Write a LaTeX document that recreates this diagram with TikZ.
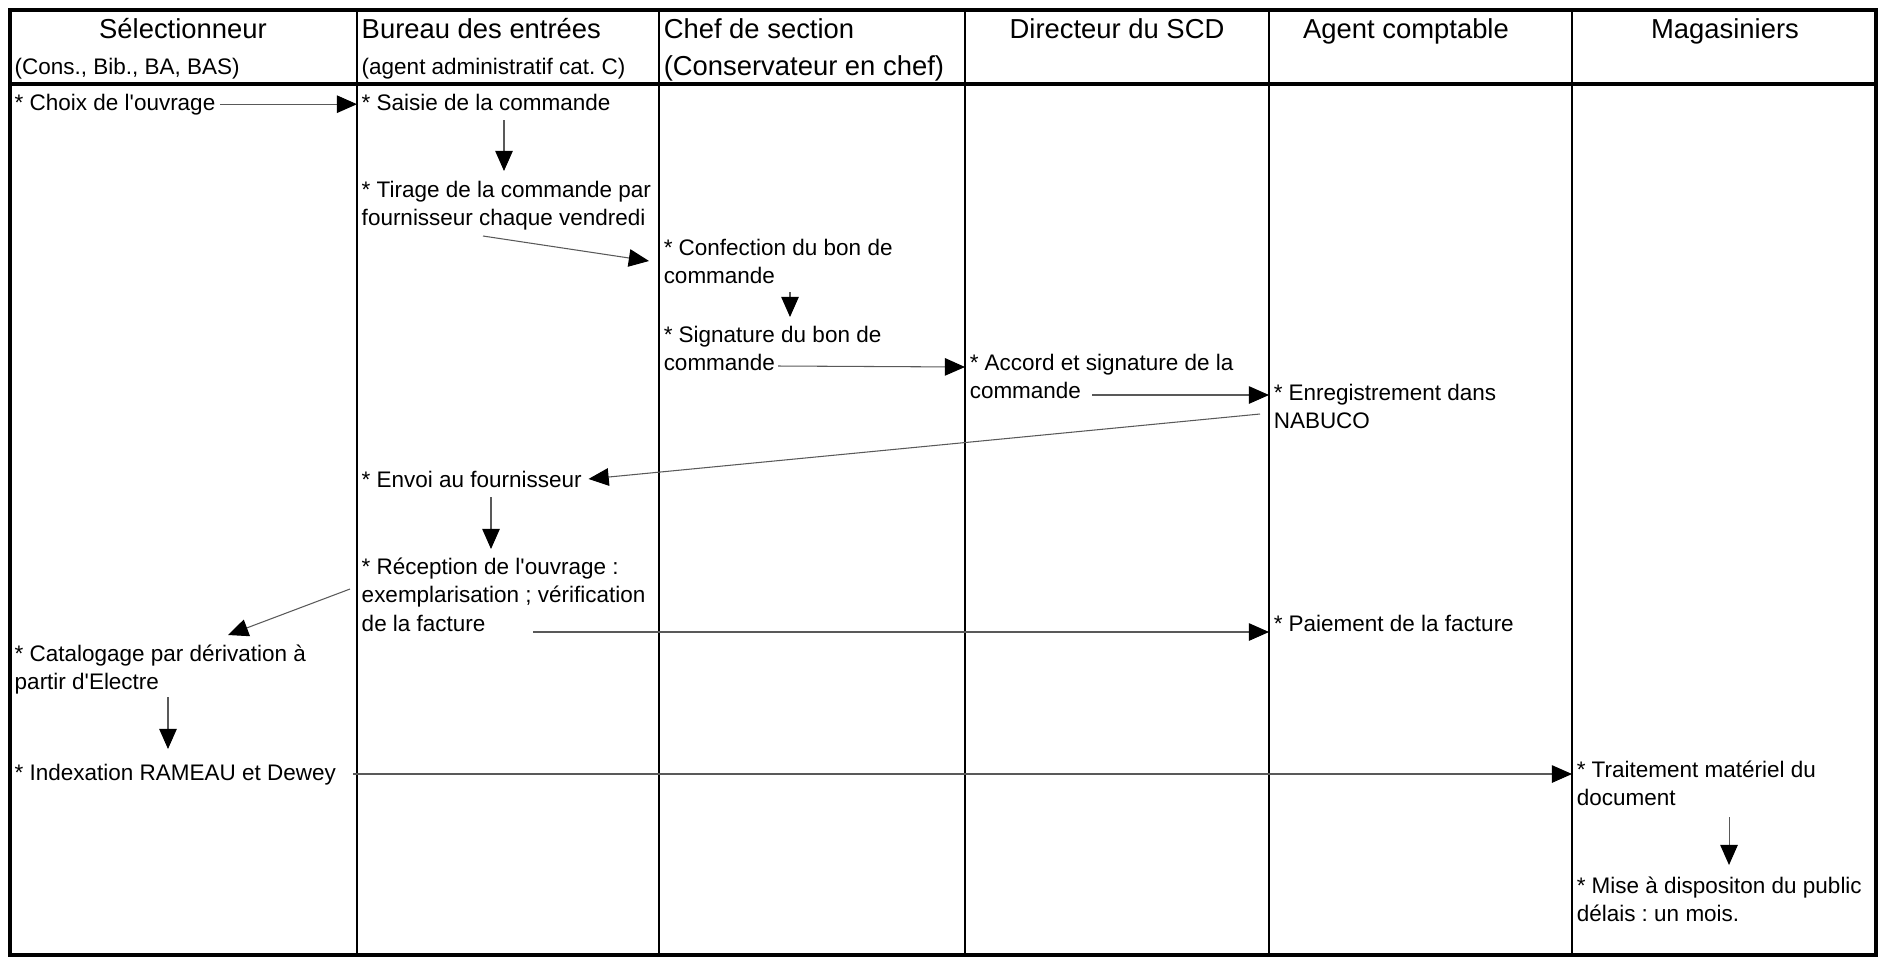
\documentclass[tikz,border=0pt]{standalone}
\usepackage{fontspec}
\setmainfont{Liberation Sans}
\usetikzlibrary{arrows.meta}
\usetikzlibrary{positioning}
\usetikzlibrary{calc}
\frenchspacing

\begin{document}
\begin{tikzpicture}
  [x=0.02cm,y=-0.02cm,
  lane/.style={draw=black,line width=1.3pt},
  border/.style={draw=black,line width=1.9pt},
  head/.style={inner sep=0pt,anchor=base,font=\fontsize{15.6}{19}\selectfont},
  lhead/.style={inner xsep=2.5pt,inner ysep=0pt,anchor=base west,font=\fontsize{15.6}{19}\selectfont},
  role/.style={inner xsep=2.5pt,inner ysep=0pt,anchor=base west,font=\fontsize{12.8}{16}\selectfont},
  task/.style={inner xsep=2.5pt,inner ysep=0pt,anchor=base west,align=left,font=\fontsize{12.8}{16.2}\selectfont},
  flow/.style={draw=black!65,line width=0.6pt,-{Triangle[length=11.5pt,width=10pt,color=black]}}]
  \useasboundingbox (0,0) rectangle (1878,958);

  \draw[border] (10,10) rectangle (1876,955);
  \draw[border] (10,84) -- (1876,84);
  \foreach \x in {357,659,965,1269,1572}
    \draw[lane] (\x,10) -- (\x,955);

  \node[head] (selectionneur) at (183,38) {Sélectionneur};
  \node[role] (selectionneurrole) at (10,74) {(Cons., Bib., BA, BAS)};
  \node[lhead] (bureau) at (357,38) {Bureau des entrées};
  \node[role] (bureaurole) at (357,74) {(agent administratif cat. C)};
  \node[lhead] (chef) at (659,38) {Chef de section};
  \node[lhead] (chefrole) at (659,75) {(Conservateur en chef)};
  \node[head] (directeur) at (1117,38) {Directeur du SCD};
  \node[head] (agent) at (1406,38) {Agent comptable};
  \node[head] (magasiniers) at (1725,38) {Magasiniers};

  % multi-line tasks sit on the baseline of their last line
  \node[task] (choix) at (10,110) {* Choix de l\textquotesingle ouvrage};
  \node[task] (saisie) at (357,110) {* Saisie de la commande};
  \node[task] (tirage) at (357,225.5) {* Tirage de la commande par\\fournisseur chaque vendredi};
  \node[task] (confection) at (659,283.5) {* Confection du bon de\\commande};
  \node[task] (signature) at (659,370.5) {* Signature du bon de\\commande};
  \node[task] (accord) at (965,398.5) {* Accord et signature de la\\commande};
  \node[task] (enreg) at (1269,428.5) {* Enregistrement dans\\NABUCO};
  \node[task] (envoi) at (357,487) {* Envoi au fournisseur};
  \node[task] (reception) at (357,631) {* Réception de l\textquotesingle ouvrage :\\exemplarisation ; vérification\\de la facture};
  \node[task] (paiement) at (1269,631) {* Paiement de la facture};
  \node[task] (catalogage) at (10,689.5) {* Catalogage par dérivation à\\partir d\textquotesingle Electre};
  \node[task] (indexation) at (10,780) {* Indexation RAMEAU et Dewey};
  \node[task] (traitement) at (1572,805.5) {* Traitement matériel du\\document};
  \node[task] (mise) at (1572,921.5) {* Mise à dispositon du public\\délais : un mois.};

  \draw[flow] (choix.east) -- (choix.east -| saisie.west);
  \draw[flow] ($(saisie.base west)+(147,10)$) -- ($(tirage.base west)+(147,-54.5)$);
  \draw[flow] ($(tirage.base west)+(126,10.5)$) -- ($(confection.base west)+(-10,-22.5)$);
  \draw[flow] ($(confection.base west)+(131,8.5)$) -- ($(signature.base west)+(131,-53.5)$);
  \draw[flow] ($(signature.base west)+(119,-4.5)$) -- ($(accord.base west)+(0,-31.5)$);
  \draw[flow] ($(accord.base west)+(127,-3.5)$) -- ($(enreg.base west)+(0,-33.5)$);
  \draw[flow] ($(enreg.base west)+(-9,-14.5)$) -- ($(envoi.east)+(2,0)$);
  \draw[flow] ($(envoi.base west)+(134,10)$) -- ($(reception.base west)+(134,-82)$);
  \draw[flow] ($(reception.base west)+(-7,-42)$) -- ($(catalogage.base west)+(218,-54.5)$);
  \draw[flow] ($(reception.base west)+(176,1)$) -- ($(paiement.base west)+(0,1)$);
  \draw[flow] ($(catalogage.base west)+(158,7.5)$) -- ($(indexation.base west)+(158,-31)$);
  \draw[flow] ($(indexation.base west)+(343,-6)$) -- ($(traitement.base west)+(0,-31.5)$);
  \draw[flow] ($(traitement.base west)+(157,11.5)$) -- ($(mise.base west)+(157,-56.5)$);
\end{tikzpicture}
\end{document}
